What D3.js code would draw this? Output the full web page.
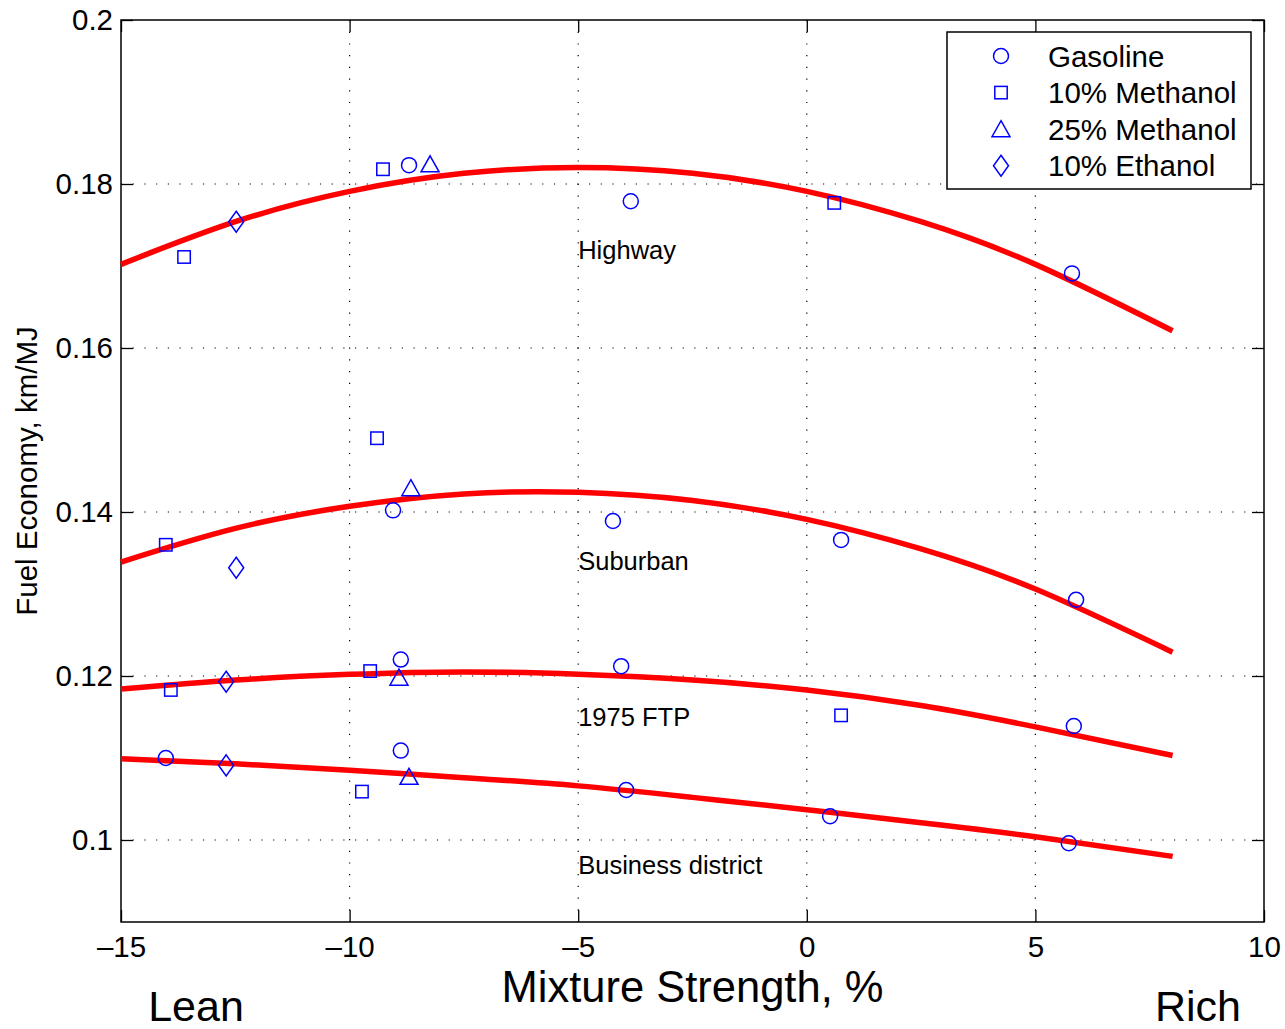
<!doctype html>
<html lang="en">
<head>
<meta charset="utf-8">
<title>Fuel Economy vs Mixture Strength</title>
<script src="https://cdn.jsdelivr.net/npm/d3@7"></script>
<style>
  body { margin: 0; background: #fff; }
  text { font-family: "Liberation Sans", Arial, Helvetica, sans-serif; fill: #000; }
</style>
</head>
<body>
<div id="chart"></div>
<script>
// tick values and labels
var xTicks = [-15, -10, -5, 0, 5, 10];
var xTickLabels = ["\u201315", "\u201310", "\u20135", "0", "5", "10"];
var yTicks = [0.1, 0.12, 0.14, 0.16, 0.18, 0.2];
var yTickLabels = ["0.1", "0.12", "0.14", "0.16", "0.18", "0.2"];

// fitted curves at x = -15 ... 8
var curveX       = [-15, -12.5, -10, -7.5, -5, -2.5, 0, 2.5, 5, 8];
var highwayFit   = [0.1702, 0.1754, 0.1791, 0.1813, 0.1820, 0.1813, 0.1791, 0.1754, 0.1702, 0.1621];
var suburbanFit  = [0.1339, 0.1380, 0.1407, 0.1422, 0.1424, 0.1414, 0.1391, 0.1355, 0.1306, 0.1229];
var ftpFit       = [0.1184, 0.1195, 0.1202, 0.1205, 0.1202, 0.1195, 0.1183, 0.1164, 0.1138, 0.1103];
var businessFit  = [0.1099, 0.1093, 0.1085, 0.1076, 0.1066, 0.1052, 0.1037, 0.1021, 0.1004, 0.0980];

// measured points [mixture strength %, km/MJ]
var gasoline = [
  [-8.70, 0.1823], [-3.85, 0.1779], [5.80, 0.1691],
  [-9.05, 0.1402], [-4.24, 0.1389], [0.75, 0.1366], [5.89, 0.1293],
  [-8.88, 0.1220], [-4.06, 0.1212], [5.84, 0.1139],
  [-14.02, 0.1100], [-8.88, 0.1109], [-3.95, 0.1061], [0.51, 0.1029], [5.73, 0.0996]
];
var methanol10 = [
  [-13.62, 0.1711], [-9.27, 0.1818], [0.60, 0.1777],
  [-9.40, 0.1490], [-14.02, 0.1360],
  [-13.91, 0.1183], [-9.55, 0.1206], [0.75, 0.1152],
  [-9.73, 0.1059]
];
var methanol25 = [
  [-8.24, 0.1824], [-8.66, 0.1429], [-8.92, 0.1198], [-8.70, 0.1077]
];
var ethanol10 = [
  [-12.48, 0.1754], [-12.48, 0.1332], [-12.70, 0.1193], [-12.70, 0.1091]
];

var curveLabels = [
  { text: "Highway", x: -5, y: 0.172 },
  { text: "Suburban", x: -5, y: 0.134 },
  { text: "1975 FTP", x: -5, y: 0.115 },
  { text: "Business district", x: -5, y: 0.097 }
];
var legendNames = ["Gasoline", "10% Methanol", "25% Methanol", "10% Ethanol"];

var W = 1285, H = 1029;
var plotL = 121, plotR = 1264, plotT = 20, plotB = 922;

var svg = d3.select("#chart").append("svg").attr("width", W).attr("height", H);

var x = d3.scaleLinear().domain([-15, 10]).range([plotL, plotR]);
var y = d3.scaleLinear().domain([0.09, 0.2]).range([plotB, plotT]);

// grid
var grid = svg.append("g").attr("stroke", "#000").attr("stroke-width", 1.2)
  .attr("stroke-dasharray", "1.2,10.5");
grid.selectAll(".gx").data(xTicks.slice(1, -1)).enter().append("line")
  .attr("x1", d => x(d)).attr("x2", d => x(d)).attr("y1", plotT).attr("y2", plotB);
grid.selectAll(".gy").data(yTicks.slice(0, -1)).enter().append("line")
  .attr("x1", plotL).attr("x2", plotR).attr("y1", d => y(d)).attr("y2", d => y(d));

// axes with inward ticks, mirrored on top/right
var tickLen = 12;
svg.append("g").attr("transform", "translate(0," + plotB + ")")
  .call(d3.axisBottom(x).tickValues(xTicks).tickSizeInner(-tickLen).tickSizeOuter(0)
    .tickFormat((d, i) => xTickLabels[i]).tickPadding(14))
  .call(g => g.select(".domain").remove())
  .call(g => g.selectAll("text").attr("font-size", 29.5).attr("font-family", "Liberation Sans, Arial"));
svg.append("g").attr("transform", "translate(0," + plotT + ")")
  .call(d3.axisTop(x).tickValues(xTicks).tickSizeInner(-tickLen).tickSizeOuter(0).tickFormat(""))
  .call(g => g.select(".domain").remove());
svg.append("g").attr("transform", "translate(" + plotL + ",0)")
  .call(d3.axisLeft(y).tickValues(yTicks).tickSizeInner(-tickLen).tickSizeOuter(0)
    .tickFormat((d, i) => yTickLabels[i]).tickPadding(8))
  .call(g => g.select(".domain").remove())
  .call(g => g.selectAll("text").attr("font-size", 29.5).attr("font-family", "Liberation Sans, Arial"));
svg.append("g").attr("transform", "translate(" + plotR + ",0)")
  .call(d3.axisRight(y).tickValues(yTicks).tickSizeInner(-tickLen).tickSizeOuter(0).tickFormat(""))
  .call(g => g.select(".domain").remove());
svg.selectAll(".tick line").attr("stroke", "#000").attr("stroke-width", 1.3);

svg.append("rect").attr("x", plotL).attr("y", plotT)
  .attr("width", plotR - plotL).attr("height", plotB - plotT)
  .attr("fill", "none").attr("stroke", "#000").attr("stroke-width", 1.5);

// fitted curves
var line = d3.line().x(d => x(d[0])).y(d => y(d[1])).curve(d3.curveNatural);
[highwayFit, suburbanFit, ftpFit, businessFit].forEach(function(fit) {
  svg.append("path")
    .datum(curveX.map((cx, i) => [cx, fit[i]]))
    .attr("d", line)
    .attr("fill", "none").attr("stroke", "#ff0000").attr("stroke-width", 5.5);
});

// markers
var blue = "#0000ff";
function drawMarker(g, type, cx, cy) {
  if (type === "circle") {
    g.append("circle").attr("cx", cx).attr("cy", cy).attr("r", 7.5);
  } else if (type === "square") {
    g.append("rect").attr("x", cx - 6.2).attr("y", cy - 6.2).attr("width", 12.4).attr("height", 12.4);
  } else if (type === "triangle") {
    g.append("path").attr("d", "M" + cx + "," + (cy - 8.5) + "L" + (cx + 9) + "," + (cy + 7.5) + "L" + (cx - 9) + "," + (cy + 7.5) + "Z");
  } else {
    g.append("path").attr("d", "M" + cx + "," + (cy - 10.5) + "L" + (cx + 7.5) + "," + cy + "L" + cx + "," + (cy + 10.5) + "L" + (cx - 7.5) + "," + cy + "Z");
  }
}
var marks = svg.append("g").attr("fill", "none").attr("stroke", blue).attr("stroke-width", 1.5);
var seriesList = [[gasoline, "circle"], [methanol10, "square"], [methanol25, "triangle"], [ethanol10, "diamond"]];
seriesList.forEach(function(s) {
  s[0].forEach(function(p) { drawMarker(marks, s[1], x(p[0]), y(p[1])); });
});

// curve labels
svg.selectAll(".clabel").data(curveLabels).enter().append("text")
  .attr("x", d => x(d.x)).attr("y", d => y(d.y))
  .attr("dominant-baseline", "central")
  .attr("font-size", 25.5)
  .text(d => d.text);

// legend
var lg = svg.append("g");
lg.append("rect").attr("x", 947).attr("y", 32).attr("width", 304).attr("height", 157)
  .attr("fill", "#fff").attr("stroke", "#000").attr("stroke-width", 1.5);
var lgMarks = lg.append("g").attr("fill", "none").attr("stroke", blue).attr("stroke-width", 1.5);
legendNames.forEach(function(name, i) {
  var ly = 56 + i * 36.6;
  drawMarker(lgMarks, seriesList[i][1], 1001, ly);
  lg.append("text").attr("x", 1048).attr("y", ly).attr("dominant-baseline", "central")
    .attr("font-size", 29.5).text(name);
});

// axis titles
svg.append("text").attr("x", (plotL + plotR) / 2).attr("y", 1002)
  .attr("text-anchor", "middle").attr("font-size", 43.5).text("Mixture Strength, %");
svg.append("text").attr("transform", "translate(37," + ((plotT + plotB) / 2) + ") rotate(-90)")
  .attr("text-anchor", "middle").attr("font-size", 29.5).text("Fuel Economy, km/MJ");
svg.append("text").attr("x", 196).attr("y", 1021)
  .attr("text-anchor", "middle").attr("font-size", 43).text("Lean");
svg.append("text").attr("x", 1198).attr("y", 1021)
  .attr("text-anchor", "middle").attr("font-size", 43).text("Rich");
</script>
</body>
</html>
